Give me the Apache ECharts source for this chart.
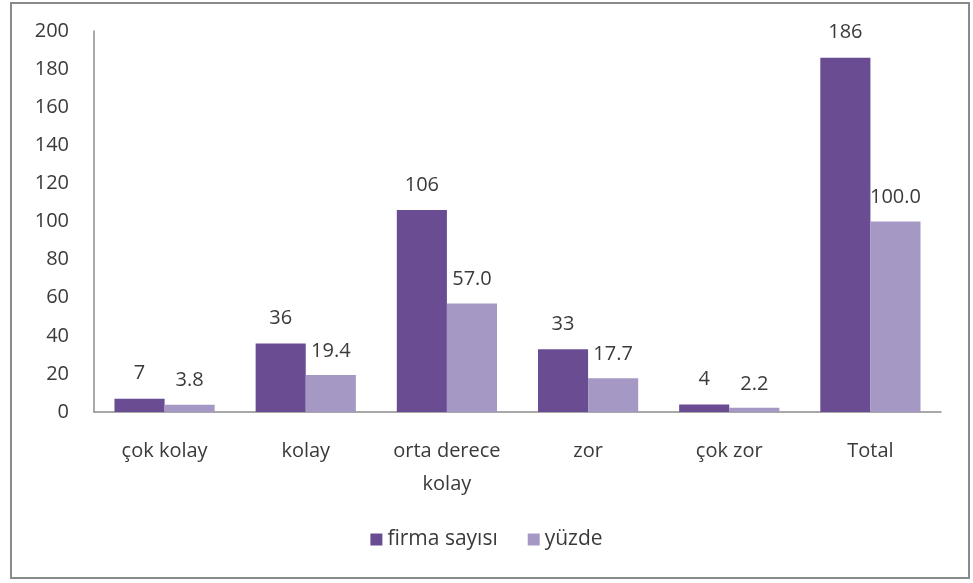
<!DOCTYPE html>
<html lang="tr">
<head>
<meta charset="UTF-8">
<title>firma sayısı / yüzde</title>
<script src="https://cdn.jsdelivr.net/npm/echarts@6/dist/echarts.min.js"></script>
<style>
  html, body { margin: 0; padding: 0; background: #fff; }
  #frame { position: absolute; left: 10px; top: 2px; width: 956px; height: 573px; border: 2px solid #8a8a8a; }
  #chart { position: absolute; left: 0; top: 0; width: 973px; height: 583px; }
</style>
</head>
<body>
<div id="frame"></div>
<div id="chart"></div>
<script>
// kategoriler ve seriler
var categories = ['çok kolay', 'kolay', 'orta derece\nkolay', 'zor', 'çok zor', 'Total'];
var firmaSayisi = [7, 36, 106, 33, 4, 186];
var yuzde = [3.8, 19.4, 57.0, 17.7, 2.2, 100.0];

var font = '"Open Sans", "DejaVu Sans", sans-serif';
var textColor = '#3a3a3a';

var chart = echarts.init(document.getElementById('chart'));
var option = {
  animation: false,
  textStyle: { fontFamily: font },
  grid: { left: 94, right: 32, top: 31, bottom: 171 },
  legend: {
    bottom: 28,
    left: 'center',
    itemWidth: 12,
    itemHeight: 12,
    itemGap: 30,
    icon: 'rect',
    textStyle: { fontSize: 21, color: textColor, fontFamily: font }
  },
  xAxis: {
    type: 'category',
    data: categories,
    axisLine: { lineStyle: { color: '#8c8c8c', width: 1.5 } },
    axisTick: { show: false },
    axisLabel: { interval: 0, fontSize: 20, color: textColor, margin: 23, lineHeight: 33, fontFamily: font }
  },
  yAxis: {
    type: 'value',
    min: 0,
    max: 200,
    interval: 20,
    axisLine: { show: true, lineStyle: { color: '#8c8c8c', width: 1.5 } },
    axisTick: { show: false },
    splitLine: { show: false },
    axisLabel: { fontSize: 20, color: textColor, margin: 25, fontFamily: font }
  },
  series: [
    {
      name: 'firma sayısı',
      type: 'bar',
      data: firmaSayisi,
      barGap: '0%',
      barCategoryGap: '29%',
      itemStyle: { color: '#6a4c93' },
      label: { show: true, position: 'top', distance: 15, fontSize: 20, color: textColor, fontFamily: font }
    },
    {
      name: 'yüzde',
      type: 'bar',
      data: yuzde,
      itemStyle: { color: '#a698c4' },
      label: {
        show: true, position: 'top', distance: 14, fontSize: 20, color: textColor, fontFamily: font,
        formatter: function (p) { return p.value.toFixed(1); }
      }
    }
  ]
};
chart.setOption(option);
</script>
</body>
</html>
